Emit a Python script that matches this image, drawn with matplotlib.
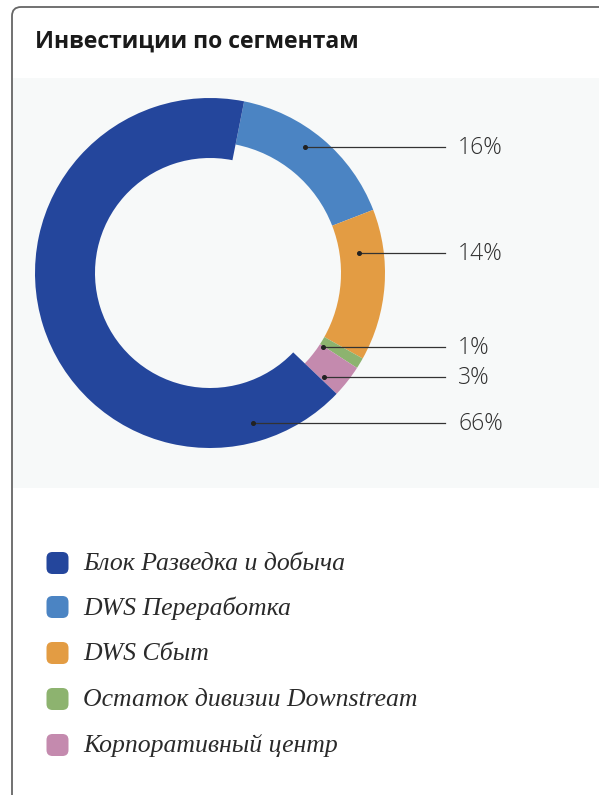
import numpy as np
import matplotlib
matplotlib.use("Agg")
import matplotlib.pyplot as plt
from matplotlib.patches import FancyBboxPatch, Rectangle

# data
segments = ["Блок Разведка и добыча", "DWS Переработка", "DWS Сбыт",
            "Остаток дивизии Downstream", "Корпоративный центр"]
shares = [66, 16, 14, 1, 3]
colors = ["#24469c", "#4b84c3", "#e39c43", "#8db36f", "#c48aae"]
title = "Инвестиции по сегментам"

# label layout (pixels): order of labels top to bottom on the right
label_order = [1, 2, 3, 4, 0]
label_y = [147, 253, 347, 377, 423]
dot_r = [158, 150, 135, 154, 156]

W, H = 599, 795
fig = plt.figure(figsize=(W / 100, H / 100), dpi=100)
bg = fig.add_axes([0, 0, 1, 1])
bg.set_xlim(0, W)
bg.set_ylim(H, 0)
bg.axis("off")

# card + grey panel
bg.add_patch(FancyBboxPatch((12, 7), 640, 840, boxstyle="round,pad=0,rounding_size=9",
                            fc="white", ec="#666666", lw=1.3))
bg.add_patch(Rectangle((13, 78), W - 13, 410, fc="#f7f9f9", ec="none"))
bg.text(35, 42, title, fontsize=16.6, fontweight="bold", family="Open Sans",
        color="#1a1a1a", va="center")

# donut
cx, cy, R = 210, 273, 175
half = 180
ax = fig.add_axes([(cx - half) / W, (H - cy - half) / H, 2 * half / W, 2 * half / H])

order = [1, 2, 3, 4, 0]
vals = [shares[i] for i in order]
cols = [colors[i] for i in order]
wedges, _ = ax.pie(vals, colors=cols, radius=R, startangle=78.75, counterclock=False,
                   wedgeprops=dict(width=44, linewidth=0), frame=True)
ax.set_xlim(-half, half)
ax.set_ylim(-half, half)
ax.set_aspect("equal")
ax.axis("off")
wedges[-1].set_width(60)

# overlay for leader lines, on top of the donut
top = fig.add_axes([0, 0, 1, 1])
top.set_xlim(0, W)
top.set_ylim(H, 0)
top.axis("off")
top.patch.set_alpha(0)

for k, idx in enumerate(label_order):
    ly = label_y[k]
    dy = ly - cy
    dx = np.sqrt(dot_r[k] ** 2 - dy ** 2)
    x0 = cx + dx
    top.plot([x0, 445], [ly, ly], color="#333333", lw=0.9, zorder=5)
    top.plot(x0, ly, "o", ms=2.6, color="#222222", zorder=6)
    top.text(458, ly + 1, f"{shares[idx]}%", fontsize=16.5, family="Open Sans",
             fontweight="light", color="#2e2e2e", va="center")

# legend
leg_y = [563, 607, 653, 699, 745]
for name, c, y in zip(segments, colors, leg_y):
    top.add_patch(FancyBboxPatch((46.5, y - 11), 22, 22,
                                 boxstyle="round,pad=0,rounding_size=6",
                                 fc=c, ec="none"))
    top.text(83, y + 1, name, fontsize=18.5, family="Liberation Serif", style="italic",
             color="#2a2a2a", va="center")

fig.savefig("out.png", dpi=100)
